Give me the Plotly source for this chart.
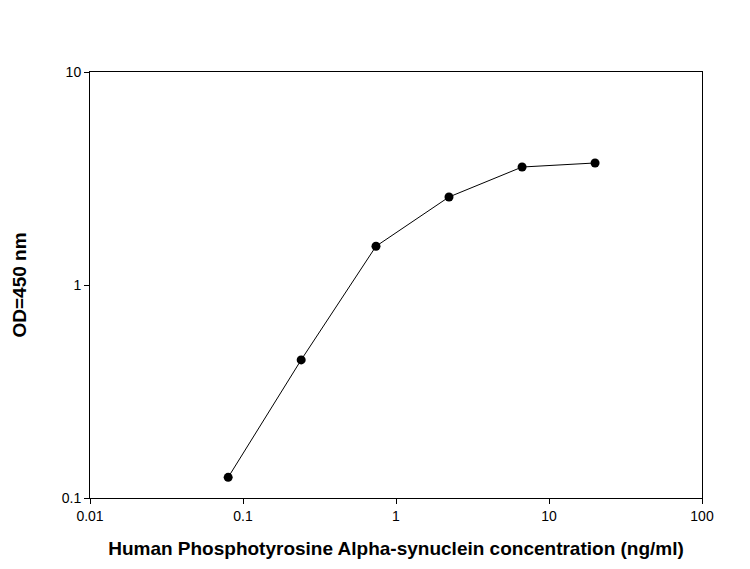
import plotly.graph_objects as go

conc = [0.08, 0.24, 0.74, 2.22, 6.67, 20]
od = [0.125, 0.445, 1.52, 2.59, 3.58, 3.74]
xticks = [0.01, 0.1, 1, 10, 100]
xlabels = ["0.01", "0.1", "1", "10", "100"]
yticks = [0.1, 1, 10]
ylabels = ["0.1", "1", "10"]

fig = go.Figure(go.Scatter(x=conc, y=od, mode="lines+markers",
    line=dict(color="black", width=1), marker=dict(color="black", size=9)))
ax = dict(type="log", showgrid=False, zeroline=False, showline=True, linecolor="black",
          linewidth=1, mirror=True, ticks="outside", ticklen=5, tickcolor="black",
          automargin=False,
          tickfont=dict(family="Arial, Liberation Sans", size=14, color="black"))
fig.update_xaxes(**ax, range=[-2, 2], tickvals=xticks, ticktext=xlabels,
    title=dict(text="<b>Human Phosphotyrosine Alpha-synuclein concentration (ng/ml)</b>",
               font=dict(family="Arial, Liberation Sans", size=19, color="black"), standoff=18))
fig.update_yaxes(**ax, range=[-1, 1], tickvals=yticks, ticktext=ylabels,
    title=dict(text="<b>OD=450 nm</b>",
               font=dict(family="Arial, Liberation Sans", size=19, color="black"), standoff=30))
fig.update_layout(width=750, height=569, margin=dict(l=82, r=56, t=64, b=79),
    plot_bgcolor="white", paper_bgcolor="white", showlegend=False)
fig.write_html("out.html")
